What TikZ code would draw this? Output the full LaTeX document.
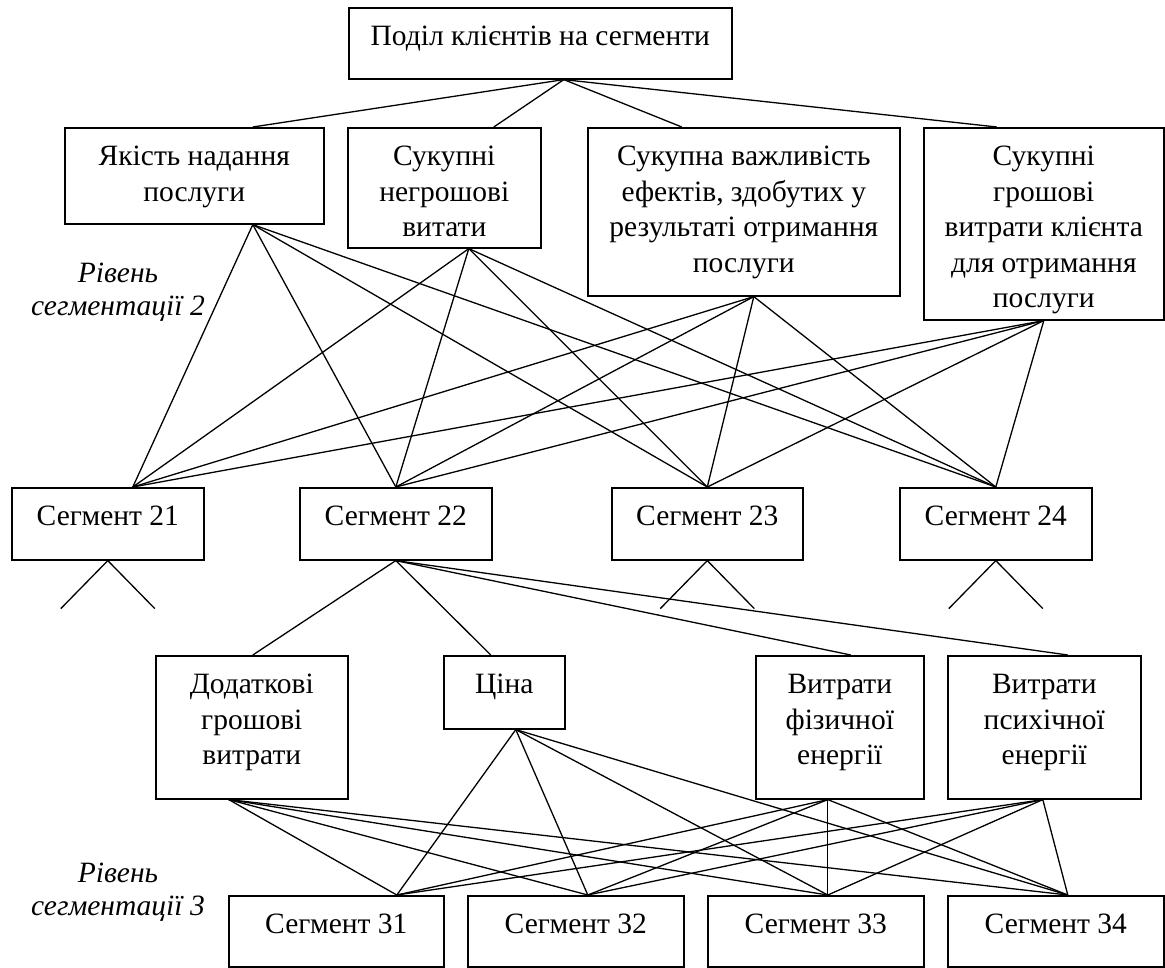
\documentclass[tikz,border=0pt]{standalone}
\usepackage{fontspec}
\setmainfont{Liberation Serif}
\newcommand{\bx}[3]{\parbox[c][#2][t]{#1}{\centering\rule{0pt}{38pt}#3}}

\begin{document}
\begin{tikzpicture}[x=1pt,y=-1pt,
  every node/.style={font=\fontsize{29.5}{35.5}\selectfont},
  blk/.style={draw,line width=1.6pt,inner sep=0pt,anchor=north west},
  lnk/.style={line width=1.3pt},
  lvl/.style={font=\fontsize{29.5}{33}\selectfont\itshape,align=center,inner sep=0pt,anchor=north}]
\useasboundingbox (0,0) rectangle (1165,967);

\node[blk] (top) at (348,7) {\bx{383pt}{71pt}{Поділ клієнтів на сегменти}};

\node[blk] (q) at (64,127) {\bx{259pt}{96pt}{Якість надання\\послуги}};
\node[blk] (n) at (347,127) {\bx{193pt}{120pt}{Сукупні\\негрошові\\витати}};
\node[blk] (v) at (587,127) {\bx{312pt}{168pt}{Сукупна важливість\\ефектів, здобутих у\\результаті отримання\\послуги}};
\node[blk] (g) at (923,127) {\bx{240pt}{192pt}{Сукупні\\грошові\\витрати клієнта\\для отримання\\послуги}};

\node[blk] (s21) at (11,487) {\bx{192pt}{72pt}{Сегмент 21}};
\node[blk] (s22) at (299,487) {\bx{192pt}{72pt}{Сегмент 22}};
\node[blk] (s23) at (611,487) {\bx{191pt}{72pt}{Сегмент 23}};
\node[blk] (s24) at (899,487) {\bx{192pt}{72pt}{Сегмент 24}};

\node[blk] (d) at (155,655) {\bx{192pt}{143pt}{Додаткові\\грошові\\витрати}};
\node[blk] (c) at (443,655) {\bx{121pt}{73pt}{Ціна}};
\node[blk] (f) at (755,655) {\bx{168pt}{143pt}{Витрати\\фізичної\\енергії}};
\node[blk] (p) at (947,655) {\bx{193pt}{143pt}{Витрати\\психічної\\енергії}};

\node[blk] (t31) at (228,895) {\bx{215pt}{71pt}{Сегмент 31}};
\node[blk] (t32) at (467,895) {\bx{216pt}{71pt}{Сегмент 32}};
\node[blk] (t33) at (707,895) {\bx{216pt}{71pt}{Сегмент 33}};
\node[blk] (t34) at (947,895) {\bx{216pt}{71pt}{Сегмент 34}};

\node[lvl] (r2) at (118,263) {Рівень\\сегментації 2};
\node[lvl] (r3) at (118,863) {Рівень\\сегментації 3};

\foreach \k/\dx in {q/58.5,n/49.5,v/-62,g/-47}
  \draw[lnk] ([xshift=23.5pt]top.south) -- ([xshift=\dx pt]\k.north);

\foreach \a/\da in {q/58.5,n/24.5,v/10,g/0}
  \foreach \b/\db in {s21/25,s22/0,s23/0,s24/0}
    \draw[lnk] ([xshift=\da pt]\a.south) -- ([xshift=\db pt]\b.north);

\foreach \b in {s21,s23,s24}
  \draw[lnk] (\b.south) -- ++(-47,48) (\b.south) -- ++(47,48);

\foreach \k/\dx in {d/1,c/-13.5,f/11,p/23.5}
  \draw[lnk] (s22.south) -- ([xshift=\dx pt]\k.north);

\foreach \a/\da in {d/-23,c/11.5,f/-12,p/-1.5}
  \foreach \b/\db in {t31/60.5,t32/12,t33/12,t34/12}
    \draw[lnk] ([xshift=\da pt]\a.south) -- ([xshift=\db pt]\b.north);
\end{tikzpicture}
\end{document}
